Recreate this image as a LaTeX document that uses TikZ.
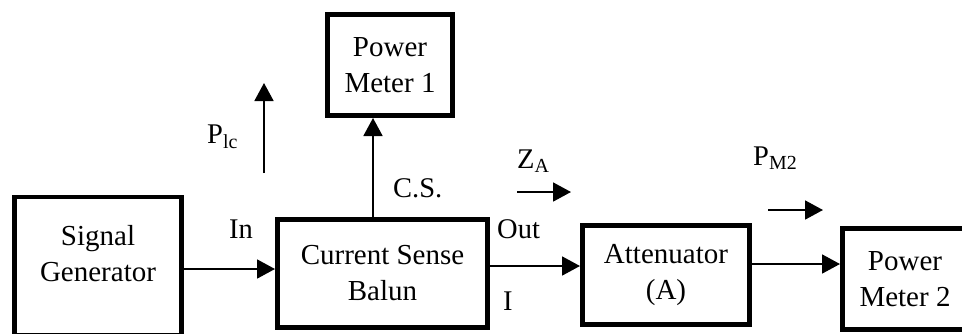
\documentclass[tikz,border=0pt]{standalone}
\usepackage{fontspec}
\setmainfont{Liberation Serif}
\usetikzlibrary{arrows.meta}
\begin{document}
\begin{tikzpicture}[x=1pt,y=-1pt,
  box/.style={draw, line width=4.8pt, inner sep=0pt, align=center,
    font=\fontsize{29}{36}\selectfont},
  txt/.style={inner sep=0pt, align=center, font=\fontsize{29}{36}\selectfont},
  lbl/.style={inner sep=0pt, anchor=base west, font=\fontsize{28.5}{34}\selectfont},
  conn/.style={line width=1.8pt, -{Triangle[length=18pt,width=19pt]}}]
\clip (0,0) rectangle (962,333);
\fill[white] (0,0) rectangle (962,333);
% boxes
\node[box, minimum width=167.2pt, minimum height=138.2pt] (sg) at (98,266) {};
\node[txt] (sgt) at (98,254) {Signal\\Generator};
\node[box, minimum width=210.2pt, minimum height=108.2pt] (csb) at (382.5,273.5) {Current Sense\\Balun};
\node[box, minimum width=125.2pt, minimum height=101.2pt] (pm1) at (390,65) {Power\\Meter 1};
\node[box, minimum width=167.2pt, minimum height=99.2pt] (att) at (666,275) {Attenuator\\(A)};
\node[box, minimum width=125.2pt, minimum height=101.2pt] (pm2) at (905,279) {Power\\Meter 2};
% connectors
\draw[conn] (sg.east |- 0,269) -- (csb.west |- 0,269);
\draw[conn] (csb.east |- 0,266) -- (att.west |- 0,266);
\draw[conn] (att.east |- 0,264) -- (pm2.west |- 0,264);
\draw[conn] (csb.north -| 373,0) -- (pm1.south -| 373,0);
% free arrows
\coordinate (plcA) at (264,173);
\coordinate (plcB) at (264,83);
\coordinate (zaA) at (517,192);
\coordinate (zaB) at (571,192);
\coordinate (pmA) at (768,210);
\coordinate (pmB) at (823,210);
\draw[conn] (plcA) -- (plcB);
\draw[conn] (zaA) -- (zaB);
\draw[conn] (pmA) -- (pmB);
% labels
\node[lbl] (lin) at (229,238) {In};
\node[lbl] (lout) at (497,238) {Out};
\node[lbl] (li) at (503,310) {I};
\node[lbl] (lcs) at (393,197) {C.S.};
\node[lbl] (lplc) at (207,143) {P\textsubscript{lc}};
\node[lbl] (lza) at (517,168) {Z\textsubscript{A}};
\node[lbl] (lpm2) at (753,165) {P\textsubscript{M2}};
\end{tikzpicture}
\end{document}
